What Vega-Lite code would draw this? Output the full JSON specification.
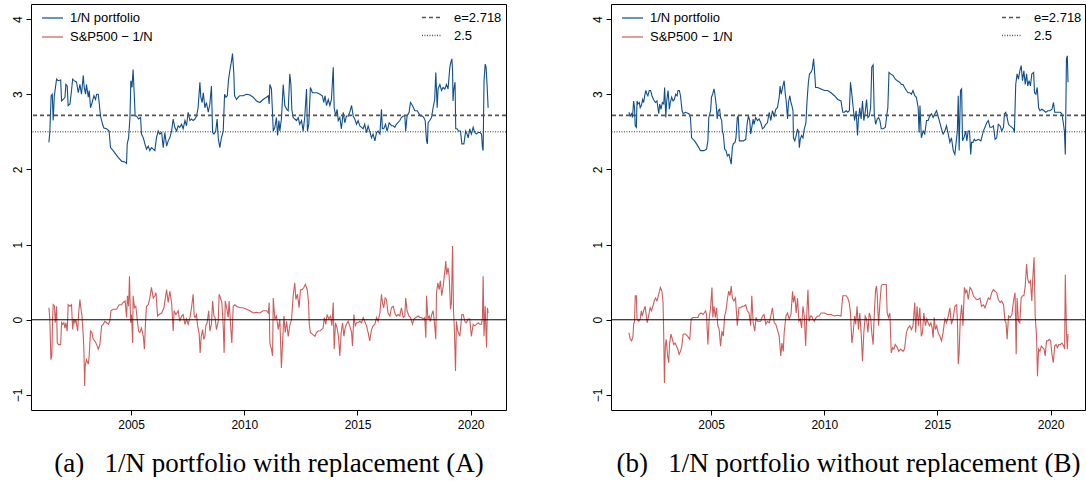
{
"$schema":"https://vega.github.io/schema/vega-lite/v6.json",
"padding":{"left":10,"top":3,"right":0,"bottom":0},
"spacing":82,
"config":{
"view":{"stroke":"black","strokeWidth":1},
"axis":{"labelFont":"Liberation Sans","labelFontSize":12,"labelColor":"black","tickColor":"black","tickSize":5,"tickWidth":1,"grid":false,"domain":false,"labelOverlap":false,"labelFlush":false,"titleFont":"Liberation Serif","titleFontSize":27,"titleFontWeight":"normal","titleColor":"black"},
"legend":{"labelFont":"Liberation Sans","labelFontSize":13,"labelColor":"black","labelLimit":0,"padding":0,"offset":0,"symbolType":"stroke"}
},
"datasets":{
"refs":[{"label":"e=2.718","y":2.718},{"label":"2.5","y":2.5}],
"zero":[{"y":0}],
"a1":[{"t":2001.37,"v":2.36},{"t":2001.41,"v":2.49},{"t":2001.47,"v":2.98},{"t":2001.52,"v":3.00},{"t":2001.56,"v":2.65},{"t":2001.61,"v":2.98},{"t":2001.71,"v":3.20},{"t":2001.78,"v":3.18},{"t":2001.89,"v":3.19},{"t":2001.93,"v":2.91},{"t":2002.00,"v":2.93},{"t":2002.08,"v":2.96},{"t":2002.12,"v":3.13},{"t":2002.18,"v":3.11},{"t":2002.22,"v":2.85},{"t":2002.30,"v":2.87},{"t":2002.37,"v":3.05},{"t":2002.42,"v":3.20},{"t":2002.49,"v":3.18},{"t":2002.59,"v":3.16},{"t":2002.67,"v":3.02},{"t":2002.74,"v":3.13},{"t":2002.81,"v":3.00},{"t":2002.89,"v":3.25},{"t":2002.93,"v":3.09},{"t":2002.99,"v":3.00},{"t":2003.03,"v":3.13},{"t":2003.11,"v":2.96},{"t":2003.15,"v":3.05},{"t":2003.21,"v":2.82},{"t":2003.28,"v":2.89},{"t":2003.36,"v":2.98},{"t":2003.43,"v":2.93},{"t":2003.48,"v":3.00},{"t":2003.55,"v":3.00},{"t":2003.59,"v":2.89},{"t":2003.65,"v":2.71},{"t":2003.74,"v":2.60},{"t":2003.80,"v":2.55},{"t":2003.92,"v":2.54},{"t":2004.03,"v":2.51},{"t":2004.09,"v":2.29},{"t":2004.21,"v":2.25},{"t":2004.33,"v":2.20},{"t":2004.43,"v":2.16},{"t":2004.58,"v":2.11},{"t":2004.73,"v":2.10},{"t":2004.80,"v":2.08},{"t":2004.83,"v":2.34},{"t":2004.89,"v":2.42},{"t":2004.95,"v":2.69},{"t":2004.99,"v":3.18},{"t":2005.04,"v":3.09},{"t":2005.09,"v":3.33},{"t":2005.14,"v":3.00},{"t":2005.18,"v":2.71},{"t":2005.24,"v":2.71},{"t":2005.33,"v":2.67},{"t":2005.42,"v":2.69},{"t":2005.46,"v":2.47},{"t":2005.54,"v":2.42},{"t":2005.61,"v":2.34},{"t":2005.68,"v":2.27},{"t":2005.76,"v":2.31},{"t":2005.83,"v":2.25},{"t":2005.90,"v":2.29},{"t":2005.98,"v":2.27},{"t":2006.05,"v":2.25},{"t":2006.12,"v":2.42},{"t":2006.20,"v":2.51},{"t":2006.27,"v":2.47},{"t":2006.35,"v":2.49},{"t":2006.42,"v":2.29},{"t":2006.49,"v":2.49},{"t":2006.57,"v":2.31},{"t":2006.64,"v":2.38},{"t":2006.71,"v":2.42},{"t":2006.79,"v":2.51},{"t":2006.86,"v":2.67},{"t":2006.93,"v":2.56},{"t":2007.01,"v":2.51},{"t":2007.08,"v":2.58},{"t":2007.15,"v":2.56},{"t":2007.23,"v":2.60},{"t":2007.30,"v":2.54},{"t":2007.38,"v":2.65},{"t":2007.45,"v":2.58},{"t":2007.52,"v":2.76},{"t":2007.60,"v":2.65},{"t":2007.67,"v":2.67},{"t":2007.74,"v":2.65},{"t":2007.82,"v":2.67},{"t":2007.89,"v":2.71},{"t":2007.96,"v":2.82},{"t":2008.04,"v":3.16},{"t":2008.08,"v":2.96},{"t":2008.14,"v":2.89},{"t":2008.19,"v":3.02},{"t":2008.26,"v":2.82},{"t":2008.33,"v":2.89},{"t":2008.41,"v":2.76},{"t":2008.48,"v":2.87},{"t":2008.55,"v":3.11},{"t":2008.60,"v":2.49},{"t":2008.66,"v":2.47},{"t":2008.74,"v":2.51},{"t":2008.80,"v":2.67},{"t":2008.85,"v":2.42},{"t":2008.92,"v":2.29},{"t":2008.99,"v":2.42},{"t":2009.07,"v":2.51},{"t":2009.13,"v":3.00},{"t":2009.19,"v":2.96},{"t":2009.25,"v":2.98},{"t":2009.30,"v":3.18},{"t":2009.36,"v":3.31},{"t":2009.44,"v":3.45},{"t":2009.48,"v":3.54},{"t":2009.54,"v":3.27},{"t":2009.57,"v":2.98},{"t":2009.66,"v":2.93},{"t":2009.73,"v":2.96},{"t":2009.80,"v":2.98},{"t":2009.95,"v":2.98},{"t":2010.10,"v":3.00},{"t":2010.25,"v":2.99},{"t":2010.39,"v":2.96},{"t":2010.54,"v":2.91},{"t":2010.69,"v":2.89},{"t":2010.83,"v":2.93},{"t":2010.98,"v":2.96},{"t":2011.06,"v":2.98},{"t":2011.10,"v":2.87},{"t":2011.13,"v":3.13},{"t":2011.20,"v":3.07},{"t":2011.23,"v":2.87},{"t":2011.28,"v":2.51},{"t":2011.35,"v":2.56},{"t":2011.42,"v":2.69},{"t":2011.47,"v":2.45},{"t":2011.53,"v":2.65},{"t":2011.57,"v":2.51},{"t":2011.64,"v":2.67},{"t":2011.72,"v":3.13},{"t":2011.79,"v":2.85},{"t":2011.87,"v":2.80},{"t":2011.94,"v":2.78},{"t":2012.01,"v":3.27},{"t":2012.06,"v":3.13},{"t":2012.10,"v":2.80},{"t":2012.16,"v":2.69},{"t":2012.23,"v":2.67},{"t":2012.31,"v":2.65},{"t":2012.38,"v":2.69},{"t":2012.45,"v":2.60},{"t":2012.53,"v":2.65},{"t":2012.60,"v":2.51},{"t":2012.67,"v":2.69},{"t":2012.75,"v":3.07},{"t":2012.79,"v":2.51},{"t":2012.85,"v":2.60},{"t":2012.92,"v":3.09},{"t":2013.01,"v":3.02},{"t":2013.12,"v":3.02},{"t":2013.22,"v":3.02},{"t":2013.34,"v":3.00},{"t":2013.45,"v":2.98},{"t":2013.51,"v":2.89},{"t":2013.57,"v":2.98},{"t":2013.63,"v":2.85},{"t":2013.71,"v":2.93},{"t":2013.78,"v":2.85},{"t":2013.85,"v":2.93},{"t":2013.93,"v":3.36},{"t":2013.97,"v":2.82},{"t":2014.04,"v":2.71},{"t":2014.10,"v":2.80},{"t":2014.15,"v":2.65},{"t":2014.22,"v":2.69},{"t":2014.29,"v":2.54},{"t":2014.37,"v":2.76},{"t":2014.44,"v":2.62},{"t":2014.51,"v":2.71},{"t":2014.59,"v":2.71},{"t":2014.66,"v":2.76},{"t":2014.74,"v":2.85},{"t":2014.81,"v":2.71},{"t":2014.88,"v":2.67},{"t":2014.96,"v":2.60},{"t":2015.03,"v":2.65},{"t":2015.10,"v":2.58},{"t":2015.18,"v":2.56},{"t":2015.25,"v":2.54},{"t":2015.32,"v":2.60},{"t":2015.40,"v":2.49},{"t":2015.47,"v":2.58},{"t":2015.54,"v":2.51},{"t":2015.62,"v":2.42},{"t":2015.69,"v":2.47},{"t":2015.77,"v":2.38},{"t":2015.84,"v":2.49},{"t":2015.91,"v":2.51},{"t":2015.99,"v":2.47},{"t":2016.06,"v":2.80},{"t":2016.10,"v":2.54},{"t":2016.16,"v":2.54},{"t":2016.24,"v":2.60},{"t":2016.31,"v":2.51},{"t":2016.40,"v":2.62},{"t":2016.46,"v":2.60},{"t":2016.50,"v":2.58},{"t":2016.58,"v":2.58},{"t":2016.65,"v":2.56},{"t":2016.72,"v":2.60},{"t":2016.87,"v":2.65},{"t":2016.94,"v":2.69},{"t":2017.02,"v":2.71},{"t":2017.09,"v":2.71},{"t":2017.13,"v":2.51},{"t":2017.19,"v":2.71},{"t":2017.28,"v":2.76},{"t":2017.34,"v":2.89},{"t":2017.43,"v":2.85},{"t":2017.53,"v":2.78},{"t":2017.64,"v":2.78},{"t":2017.72,"v":2.74},{"t":2017.78,"v":2.71},{"t":2017.87,"v":2.71},{"t":2017.93,"v":2.69},{"t":2017.99,"v":2.65},{"t":2018.05,"v":2.38},{"t":2018.09,"v":2.34},{"t":2018.12,"v":2.62},{"t":2018.19,"v":2.65},{"t":2018.27,"v":2.69},{"t":2018.34,"v":2.82},{"t":2018.41,"v":2.93},{"t":2018.46,"v":3.29},{"t":2018.52,"v":2.82},{"t":2018.56,"v":3.07},{"t":2018.64,"v":3.13},{"t":2018.71,"v":3.05},{"t":2018.78,"v":3.09},{"t":2018.86,"v":3.07},{"t":2018.93,"v":3.13},{"t":2019.00,"v":3.07},{"t":2019.08,"v":3.36},{"t":2019.12,"v":3.42},{"t":2019.17,"v":3.47},{"t":2019.20,"v":3.31},{"t":2019.22,"v":2.91},{"t":2019.25,"v":3.05},{"t":2019.31,"v":3.16},{"t":2019.34,"v":2.54},{"t":2019.40,"v":2.54},{"t":2019.46,"v":2.51},{"t":2019.55,"v":2.51},{"t":2019.61,"v":2.34},{"t":2019.70,"v":2.34},{"t":2019.78,"v":2.51},{"t":2019.84,"v":2.47},{"t":2019.89,"v":2.42},{"t":2019.96,"v":2.54},{"t":2020.03,"v":2.47},{"t":2020.11,"v":2.56},{"t":2020.18,"v":2.49},{"t":2020.25,"v":2.47},{"t":2020.33,"v":2.49},{"t":2020.40,"v":2.49},{"t":2020.48,"v":2.47},{"t":2020.52,"v":2.29},{"t":2020.55,"v":2.25},{"t":2020.59,"v":3.18},{"t":2020.64,"v":3.40},{"t":2020.68,"v":3.36},{"t":2020.73,"v":3.09},{"t":2020.77,"v":2.82}],
"a2":[{"t":2001.37,"v":0.16},{"t":2001.41,"v":0.01},{"t":2001.46,"v":-0.53},{"t":2001.50,"v":-0.48},{"t":2001.53,"v":-0.02},{"t":2001.56,"v":0.20},{"t":2001.62,"v":0.18},{"t":2001.65,"v":-0.04},{"t":2001.68,"v":0.05},{"t":2001.71,"v":0.18},{"t":2001.74,"v":-0.31},{"t":2001.80,"v":-0.33},{"t":2001.89,"v":-0.33},{"t":2001.93,"v":-0.04},{"t":2001.97,"v":-0.06},{"t":2002.03,"v":-0.04},{"t":2002.08,"v":-0.11},{"t":2002.12,"v":-0.04},{"t":2002.18,"v":-0.15},{"t":2002.22,"v":0.20},{"t":2002.30,"v":0.18},{"t":2002.37,"v":0.20},{"t":2002.42,"v":-0.13},{"t":2002.47,"v":0.01},{"t":2002.52,"v":-0.04},{"t":2002.56,"v":0.01},{"t":2002.64,"v":-0.15},{"t":2002.68,"v":0.07},{"t":2002.74,"v":0.27},{"t":2002.78,"v":0.16},{"t":2002.83,"v":0.05},{"t":2002.89,"v":-0.22},{"t":2002.92,"v":-0.44},{"t":2002.95,"v":-0.88},{"t":2002.97,"v":-0.62},{"t":2003.03,"v":-0.53},{"t":2003.11,"v":-0.59},{"t":2003.15,"v":-0.48},{"t":2003.21,"v":-0.15},{"t":2003.27,"v":-0.17},{"t":2003.33,"v":-0.26},{"t":2003.40,"v":-0.28},{"t":2003.48,"v":-0.33},{"t":2003.55,"v":-0.39},{"t":2003.62,"v":-0.33},{"t":2003.70,"v":-0.08},{"t":2003.77,"v":-0.06},{"t":2003.84,"v":-0.02},{"t":2003.92,"v":-0.04},{"t":2004.00,"v":-0.06},{"t":2004.06,"v":-0.02},{"t":2004.11,"v":0.12},{"t":2004.21,"v":0.14},{"t":2004.36,"v":0.14},{"t":2004.48,"v":0.20},{"t":2004.58,"v":0.20},{"t":2004.65,"v":0.23},{"t":2004.74,"v":0.25},{"t":2004.80,"v":0.03},{"t":2004.84,"v":0.32},{"t":2004.89,"v":0.18},{"t":2004.93,"v":0.58},{"t":2004.98,"v":-0.04},{"t":2005.02,"v":0.07},{"t":2005.07,"v":-0.31},{"t":2005.09,"v":0.32},{"t":2005.15,"v":0.16},{"t":2005.21,"v":0.18},{"t":2005.27,"v":0.01},{"t":2005.33,"v":-0.15},{"t":2005.39,"v":-0.17},{"t":2005.46,"v":-0.11},{"t":2005.54,"v":-0.22},{"t":2005.59,"v":-0.39},{"t":2005.64,"v":-0.02},{"t":2005.68,"v":0.18},{"t":2005.76,"v":0.20},{"t":2005.83,"v":0.29},{"t":2005.90,"v":0.43},{"t":2005.98,"v":0.29},{"t":2006.05,"v":0.32},{"t":2006.10,"v":0.36},{"t":2006.17,"v":0.05},{"t":2006.24,"v":0.07},{"t":2006.35,"v":0.09},{"t":2006.45,"v":0.16},{"t":2006.57,"v":0.40},{"t":2006.64,"v":0.23},{"t":2006.71,"v":0.38},{"t":2006.79,"v":0.23},{"t":2006.86,"v":-0.15},{"t":2006.90,"v":0.12},{"t":2006.98,"v":0.07},{"t":2007.08,"v":0.12},{"t":2007.15,"v":-0.02},{"t":2007.23,"v":0.05},{"t":2007.30,"v":0.07},{"t":2007.38,"v":-0.06},{"t":2007.45,"v":0.01},{"t":2007.52,"v":-0.06},{"t":2007.60,"v":0.03},{"t":2007.67,"v":0.16},{"t":2007.74,"v":0.34},{"t":2007.79,"v":0.05},{"t":2007.83,"v":0.03},{"t":2007.89,"v":0.07},{"t":2007.94,"v":-0.08},{"t":2008.01,"v":-0.19},{"t":2008.05,"v":-0.44},{"t":2008.10,"v":-0.22},{"t":2008.16,"v":-0.13},{"t":2008.21,"v":-0.26},{"t":2008.26,"v":-0.22},{"t":2008.30,"v":-0.08},{"t":2008.36,"v":-0.04},{"t":2008.43,"v":0.12},{"t":2008.48,"v":-0.15},{"t":2008.55,"v":-0.06},{"t":2008.60,"v":0.25},{"t":2008.66,"v":0.05},{"t":2008.71,"v":0.03},{"t":2008.77,"v":-0.13},{"t":2008.85,"v":-0.02},{"t":2008.89,"v":0.34},{"t":2008.95,"v":0.29},{"t":2009.01,"v":0.23},{"t":2009.07,"v":-0.08},{"t":2009.11,"v":-0.44},{"t":2009.16,"v":0.25},{"t":2009.22,"v":0.16},{"t":2009.29,"v":0.03},{"t":2009.33,"v":0.25},{"t":2009.39,"v":-0.04},{"t":2009.45,"v":-0.31},{"t":2009.51,"v":0.18},{"t":2009.58,"v":0.20},{"t":2009.66,"v":0.18},{"t":2009.80,"v":0.16},{"t":2009.95,"v":0.16},{"t":2010.10,"v":0.14},{"t":2010.25,"v":0.12},{"t":2010.39,"v":0.09},{"t":2010.54,"v":0.10},{"t":2010.69,"v":0.09},{"t":2010.83,"v":0.12},{"t":2010.98,"v":0.12},{"t":2011.06,"v":0.09},{"t":2011.10,"v":0.23},{"t":2011.13,"v":-0.31},{"t":2011.20,"v":-0.39},{"t":2011.25,"v":-0.48},{"t":2011.28,"v":0.29},{"t":2011.35,"v":0.01},{"t":2011.42,"v":0.05},{"t":2011.50,"v":-0.13},{"t":2011.57,"v":0.01},{"t":2011.64,"v":-0.64},{"t":2011.69,"v":-0.31},{"t":2011.75,"v":0.05},{"t":2011.81,"v":-0.17},{"t":2011.87,"v":-0.02},{"t":2011.94,"v":-0.22},{"t":2012.01,"v":-0.08},{"t":2012.09,"v":0.01},{"t":2012.16,"v":0.32},{"t":2012.23,"v":0.49},{"t":2012.28,"v":0.27},{"t":2012.35,"v":0.34},{"t":2012.42,"v":0.16},{"t":2012.48,"v":0.40},{"t":2012.56,"v":0.40},{"t":2012.63,"v":0.43},{"t":2012.70,"v":0.47},{"t":2012.78,"v":0.40},{"t":2012.84,"v":0.23},{"t":2012.87,"v":-0.06},{"t":2012.92,"v":-0.17},{"t":2013.01,"v":-0.19},{"t":2013.12,"v":-0.22},{"t":2013.19,"v":-0.17},{"t":2013.26,"v":-0.15},{"t":2013.34,"v":-0.15},{"t":2013.41,"v":-0.13},{"t":2013.48,"v":-0.11},{"t":2013.54,"v":0.03},{"t":2013.60,"v":-0.06},{"t":2013.66,"v":0.07},{"t":2013.73,"v":0.01},{"t":2013.81,"v":0.05},{"t":2013.87,"v":-0.08},{"t":2013.93,"v":0.23},{"t":2013.97,"v":-0.39},{"t":2014.03,"v":-0.04},{"t":2014.10,"v":-0.11},{"t":2014.16,"v":-0.22},{"t":2014.22,"v":-0.48},{"t":2014.28,"v":-0.17},{"t":2014.34,"v":-0.04},{"t":2014.40,"v":-0.22},{"t":2014.44,"v":-0.13},{"t":2014.51,"v":-0.06},{"t":2014.59,"v":-0.02},{"t":2014.66,"v":-0.08},{"t":2014.74,"v":-0.17},{"t":2014.78,"v":-0.35},{"t":2014.84,"v":0.07},{"t":2014.90,"v":-0.08},{"t":2014.96,"v":-0.04},{"t":2015.03,"v":-0.04},{"t":2015.10,"v":-0.02},{"t":2015.18,"v":-0.04},{"t":2015.25,"v":0.03},{"t":2015.32,"v":-0.02},{"t":2015.40,"v":-0.08},{"t":2015.47,"v":-0.17},{"t":2015.54,"v":-0.28},{"t":2015.62,"v":-0.13},{"t":2015.69,"v":-0.08},{"t":2015.77,"v":-0.06},{"t":2015.84,"v":0.03},{"t":2015.91,"v":-0.02},{"t":2015.99,"v":0.09},{"t":2016.06,"v":0.34},{"t":2016.10,"v":0.23},{"t":2016.16,"v":0.16},{"t":2016.22,"v":0.29},{"t":2016.28,"v":0.27},{"t":2016.35,"v":0.09},{"t":2016.43,"v":0.05},{"t":2016.50,"v":0.16},{"t":2016.58,"v":0.18},{"t":2016.65,"v":0.09},{"t":2016.72,"v":0.05},{"t":2016.80,"v":0.07},{"t":2016.87,"v":0.05},{"t":2016.94,"v":0.16},{"t":2017.02,"v":0.03},{"t":2017.09,"v":0.05},{"t":2017.13,"v":0.29},{"t":2017.19,"v":0.12},{"t":2017.27,"v":0.05},{"t":2017.34,"v":0.03},{"t":2017.43,"v":-0.06},{"t":2017.49,"v":0.01},{"t":2017.58,"v":0.03},{"t":2017.68,"v":0.05},{"t":2017.75,"v":0.03},{"t":2017.83,"v":0.03},{"t":2017.90,"v":0.01},{"t":2017.97,"v":0.03},{"t":2018.02,"v":-0.24},{"t":2018.05,"v":0.32},{"t":2018.11,"v":0.01},{"t":2018.17,"v":0.05},{"t":2018.22,"v":-0.02},{"t":2018.28,"v":0.07},{"t":2018.34,"v":0.12},{"t":2018.40,"v":-0.04},{"t":2018.46,"v":-0.26},{"t":2018.49,"v":0.36},{"t":2018.55,"v":0.49},{"t":2018.61,"v":0.40},{"t":2018.66,"v":0.52},{"t":2018.72,"v":0.32},{"t":2018.78,"v":0.43},{"t":2018.86,"v":0.65},{"t":2018.90,"v":0.78},{"t":2018.94,"v":0.60},{"t":2019.00,"v":0.69},{"t":2019.05,"v":0.58},{"t":2019.11,"v":0.14},{"t":2019.15,"v":0.23},{"t":2019.20,"v":0.98},{"t":2019.24,"v":0.14},{"t":2019.28,"v":-0.13},{"t":2019.33,"v":-0.68},{"t":2019.37,"v":-0.02},{"t":2019.43,"v":-0.15},{"t":2019.52,"v":-0.22},{"t":2019.61,"v":0.07},{"t":2019.67,"v":0.07},{"t":2019.74,"v":-0.02},{"t":2019.81,"v":-0.04},{"t":2019.89,"v":0.01},{"t":2019.96,"v":0.01},{"t":2020.03,"v":-0.22},{"t":2020.11,"v":-0.06},{"t":2020.18,"v":-0.08},{"t":2020.25,"v":-0.06},{"t":2020.33,"v":-0.04},{"t":2020.40,"v":-0.06},{"t":2020.48,"v":-0.06},{"t":2020.52,"v":0.03},{"t":2020.55,"v":0.58},{"t":2020.59,"v":-0.22},{"t":2020.64,"v":0.18},{"t":2020.70,"v":-0.37},{"t":2020.74,"v":0.16},{"t":2020.77,"v":0.09}],
"b1":[{"t":2001.37,"v":2.76},{"t":2001.43,"v":2.71},{"t":2001.49,"v":2.74},{"t":2001.53,"v":2.69},{"t":2001.58,"v":2.91},{"t":2001.62,"v":2.82},{"t":2001.65,"v":2.58},{"t":2001.70,"v":2.56},{"t":2001.73,"v":2.91},{"t":2001.77,"v":2.87},{"t":2001.83,"v":2.89},{"t":2001.87,"v":2.82},{"t":2001.92,"v":2.85},{"t":2001.98,"v":2.93},{"t":2002.02,"v":2.89},{"t":2002.07,"v":2.98},{"t":2002.12,"v":3.05},{"t":2002.17,"v":3.00},{"t":2002.21,"v":2.98},{"t":2002.27,"v":3.05},{"t":2002.33,"v":3.05},{"t":2002.39,"v":2.98},{"t":2002.46,"v":2.93},{"t":2002.54,"v":2.89},{"t":2002.61,"v":2.91},{"t":2002.69,"v":2.74},{"t":2002.73,"v":2.87},{"t":2002.79,"v":2.80},{"t":2002.85,"v":2.89},{"t":2002.91,"v":2.87},{"t":2002.95,"v":3.09},{"t":2003.00,"v":2.69},{"t":2003.04,"v":2.91},{"t":2003.10,"v":3.05},{"t":2003.16,"v":2.80},{"t":2003.20,"v":2.89},{"t":2003.26,"v":2.96},{"t":2003.32,"v":2.91},{"t":2003.38,"v":2.93},{"t":2003.44,"v":3.00},{"t":2003.50,"v":2.98},{"t":2003.54,"v":3.05},{"t":2003.60,"v":3.05},{"t":2003.65,"v":2.98},{"t":2003.72,"v":2.78},{"t":2003.77,"v":2.74},{"t":2003.87,"v":2.76},{"t":2004.02,"v":2.74},{"t":2004.09,"v":2.69},{"t":2004.14,"v":2.42},{"t":2004.21,"v":2.40},{"t":2004.27,"v":2.38},{"t":2004.36,"v":2.34},{"t":2004.46,"v":2.29},{"t":2004.53,"v":2.25},{"t":2004.68,"v":2.25},{"t":2004.80,"v":2.27},{"t":2004.86,"v":2.38},{"t":2004.90,"v":2.69},{"t":2004.98,"v":2.78},{"t":2005.02,"v":2.96},{"t":2005.07,"v":3.00},{"t":2005.13,"v":3.07},{"t":2005.17,"v":3.00},{"t":2005.23,"v":2.85},{"t":2005.27,"v":2.67},{"t":2005.32,"v":2.78},{"t":2005.38,"v":2.80},{"t":2005.42,"v":2.69},{"t":2005.47,"v":2.65},{"t":2005.50,"v":2.51},{"t":2005.54,"v":2.47},{"t":2005.60,"v":2.27},{"t":2005.66,"v":2.25},{"t":2005.72,"v":2.18},{"t":2005.79,"v":2.20},{"t":2005.84,"v":2.14},{"t":2005.89,"v":2.07},{"t":2005.94,"v":2.29},{"t":2005.98,"v":2.34},{"t":2006.06,"v":2.36},{"t":2006.10,"v":2.42},{"t":2006.16,"v":2.69},{"t":2006.20,"v":2.71},{"t":2006.25,"v":2.38},{"t":2006.31,"v":2.38},{"t":2006.43,"v":2.38},{"t":2006.53,"v":2.40},{"t":2006.60,"v":2.62},{"t":2006.65,"v":2.71},{"t":2006.71,"v":2.65},{"t":2006.75,"v":2.47},{"t":2006.80,"v":2.56},{"t":2006.86,"v":2.67},{"t":2006.90,"v":2.60},{"t":2006.97,"v":2.69},{"t":2007.05,"v":2.65},{"t":2007.12,"v":2.67},{"t":2007.20,"v":2.62},{"t":2007.27,"v":2.54},{"t":2007.34,"v":2.56},{"t":2007.42,"v":2.60},{"t":2007.49,"v":2.62},{"t":2007.57,"v":2.76},{"t":2007.64,"v":2.65},{"t":2007.71,"v":2.78},{"t":2007.79,"v":2.71},{"t":2007.86,"v":2.80},{"t":2007.93,"v":2.82},{"t":2008.01,"v":2.96},{"t":2008.05,"v":3.11},{"t":2008.10,"v":3.00},{"t":2008.16,"v":3.09},{"t":2008.23,"v":3.18},{"t":2008.28,"v":3.00},{"t":2008.32,"v":2.91},{"t":2008.38,"v":2.67},{"t":2008.42,"v":2.89},{"t":2008.48,"v":2.98},{"t":2008.53,"v":2.89},{"t":2008.57,"v":2.85},{"t":2008.62,"v":2.78},{"t":2008.64,"v":2.42},{"t":2008.70,"v":2.38},{"t":2008.76,"v":2.45},{"t":2008.82,"v":2.54},{"t":2008.87,"v":2.49},{"t":2008.90,"v":2.29},{"t":2008.94,"v":2.40},{"t":2009.00,"v":2.45},{"t":2009.06,"v":2.42},{"t":2009.12,"v":2.54},{"t":2009.19,"v":2.62},{"t":2009.24,"v":2.91},{"t":2009.30,"v":3.16},{"t":2009.35,"v":3.27},{"t":2009.41,"v":3.29},{"t":2009.47,"v":3.33},{"t":2009.53,"v":3.47},{"t":2009.58,"v":3.27},{"t":2009.62,"v":3.09},{"t":2009.71,"v":3.09},{"t":2009.86,"v":3.07},{"t":2010.01,"v":3.05},{"t":2010.15,"v":3.05},{"t":2010.30,"v":3.02},{"t":2010.45,"v":2.98},{"t":2010.60,"v":2.93},{"t":2010.74,"v":2.91},{"t":2010.82,"v":2.76},{"t":2010.89,"v":2.76},{"t":2010.97,"v":2.78},{"t":2011.04,"v":2.76},{"t":2011.11,"v":2.78},{"t":2011.16,"v":3.16},{"t":2011.22,"v":3.00},{"t":2011.28,"v":2.82},{"t":2011.34,"v":2.65},{"t":2011.41,"v":2.78},{"t":2011.47,"v":2.45},{"t":2011.51,"v":2.67},{"t":2011.57,"v":2.82},{"t":2011.63,"v":2.67},{"t":2011.69,"v":2.91},{"t":2011.75,"v":2.65},{"t":2011.81,"v":2.76},{"t":2011.87,"v":2.93},{"t":2011.93,"v":2.69},{"t":2011.99,"v":2.71},{"t":2012.05,"v":2.82},{"t":2012.10,"v":3.36},{"t":2012.16,"v":3.39},{"t":2012.21,"v":2.74},{"t":2012.27,"v":2.60},{"t":2012.34,"v":2.67},{"t":2012.40,"v":2.69},{"t":2012.46,"v":2.65},{"t":2012.52,"v":2.54},{"t":2012.61,"v":2.54},{"t":2012.70,"v":2.56},{"t":2012.76,"v":2.71},{"t":2012.81,"v":2.82},{"t":2012.86,"v":3.29},{"t":2012.93,"v":3.27},{"t":2013.04,"v":3.25},{"t":2013.14,"v":3.20},{"t":2013.23,"v":3.18},{"t":2013.33,"v":3.16},{"t":2013.41,"v":3.13},{"t":2013.48,"v":3.13},{"t":2013.55,"v":3.09},{"t":2013.63,"v":3.05},{"t":2013.70,"v":3.02},{"t":2013.78,"v":3.02},{"t":2013.85,"v":3.00},{"t":2013.92,"v":3.05},{"t":2014.00,"v":2.98},{"t":2014.07,"v":2.96},{"t":2014.15,"v":2.82},{"t":2014.19,"v":2.49},{"t":2014.23,"v":2.85},{"t":2014.29,"v":2.42},{"t":2014.37,"v":2.51},{"t":2014.44,"v":2.47},{"t":2014.52,"v":2.65},{"t":2014.59,"v":2.65},{"t":2014.66,"v":2.71},{"t":2014.74,"v":2.74},{"t":2014.81,"v":2.69},{"t":2014.89,"v":2.74},{"t":2014.96,"v":2.78},{"t":2015.03,"v":2.71},{"t":2015.11,"v":2.62},{"t":2015.18,"v":2.54},{"t":2015.25,"v":2.47},{"t":2015.33,"v":2.51},{"t":2015.40,"v":2.58},{"t":2015.48,"v":2.47},{"t":2015.55,"v":2.36},{"t":2015.62,"v":2.42},{"t":2015.70,"v":2.25},{"t":2015.77,"v":2.20},{"t":2015.82,"v":2.34},{"t":2015.88,"v":2.51},{"t":2015.92,"v":2.98},{"t":2015.96,"v":2.25},{"t":2016.02,"v":3.05},{"t":2016.07,"v":3.07},{"t":2016.11,"v":2.38},{"t":2016.17,"v":2.42},{"t":2016.25,"v":2.51},{"t":2016.30,"v":2.38},{"t":2016.36,"v":2.51},{"t":2016.42,"v":2.51},{"t":2016.47,"v":2.20},{"t":2016.51,"v":2.36},{"t":2016.57,"v":2.36},{"t":2016.63,"v":2.40},{"t":2016.69,"v":2.38},{"t":2016.81,"v":2.40},{"t":2016.92,"v":2.38},{"t":2017.03,"v":2.51},{"t":2017.10,"v":2.56},{"t":2017.18,"v":2.62},{"t":2017.25,"v":2.65},{"t":2017.32,"v":2.56},{"t":2017.40,"v":2.56},{"t":2017.47,"v":2.58},{"t":2017.55,"v":2.40},{"t":2017.62,"v":2.42},{"t":2017.69,"v":2.60},{"t":2017.77,"v":2.58},{"t":2017.84,"v":2.51},{"t":2017.92,"v":2.56},{"t":2017.96,"v":2.74},{"t":2018.02,"v":2.76},{"t":2018.08,"v":2.69},{"t":2018.14,"v":2.60},{"t":2018.21,"v":2.58},{"t":2018.29,"v":2.56},{"t":2018.36,"v":2.54},{"t":2018.40,"v":2.49},{"t":2018.46,"v":3.13},{"t":2018.52,"v":3.27},{"t":2018.58,"v":3.20},{"t":2018.64,"v":3.31},{"t":2018.70,"v":3.38},{"t":2018.76,"v":3.18},{"t":2018.82,"v":3.31},{"t":2018.88,"v":3.13},{"t":2018.94,"v":3.27},{"t":2018.99,"v":3.11},{"t":2019.05,"v":3.18},{"t":2019.11,"v":3.11},{"t":2019.17,"v":3.27},{"t":2019.25,"v":3.29},{"t":2019.29,"v":3.02},{"t":2019.35,"v":3.00},{"t":2019.41,"v":3.09},{"t":2019.47,"v":2.82},{"t":2019.53,"v":2.78},{"t":2019.62,"v":2.80},{"t":2019.71,"v":2.78},{"t":2019.79,"v":2.76},{"t":2019.88,"v":2.78},{"t":2019.97,"v":2.78},{"t":2020.06,"v":2.80},{"t":2020.13,"v":2.89},{"t":2020.18,"v":2.76},{"t":2020.24,"v":2.76},{"t":2020.33,"v":2.76},{"t":2020.43,"v":2.76},{"t":2020.50,"v":2.74},{"t":2020.56,"v":2.62},{"t":2020.61,"v":2.51},{"t":2020.65,"v":2.20},{"t":2020.70,"v":3.47},{"t":2020.74,"v":3.51},{"t":2020.77,"v":3.16}],
"b2":[{"t":2001.37,"v":-0.17},{"t":2001.43,"v":-0.26},{"t":2001.49,"v":-0.28},{"t":2001.55,"v":-0.22},{"t":2001.58,"v":-0.06},{"t":2001.62,"v":-0.02},{"t":2001.65,"v":0.32},{"t":2001.70,"v":0.32},{"t":2001.73,"v":0.01},{"t":2001.80,"v":-0.02},{"t":2001.87,"v":0.01},{"t":2001.92,"v":0.12},{"t":2001.96,"v":0.05},{"t":2002.02,"v":0.12},{"t":2002.09,"v":0.18},{"t":2002.14,"v":0.05},{"t":2002.18,"v":-0.04},{"t":2002.24,"v":0.05},{"t":2002.31,"v":0.16},{"t":2002.37,"v":0.12},{"t":2002.43,"v":0.18},{"t":2002.49,"v":0.25},{"t":2002.55,"v":0.29},{"t":2002.61,"v":0.25},{"t":2002.69,"v":0.34},{"t":2002.76,"v":0.43},{"t":2002.83,"v":0.38},{"t":2002.88,"v":0.23},{"t":2002.91,"v":-0.22},{"t":2002.94,"v":-0.84},{"t":2002.98,"v":-0.35},{"t":2003.02,"v":-0.26},{"t":2003.08,"v":-0.48},{"t":2003.13,"v":-0.57},{"t":2003.17,"v":-0.31},{"t":2003.23,"v":-0.19},{"t":2003.29,"v":-0.26},{"t":2003.35,"v":-0.33},{"t":2003.41,"v":-0.31},{"t":2003.47,"v":-0.35},{"t":2003.53,"v":-0.39},{"t":2003.59,"v":-0.46},{"t":2003.65,"v":-0.42},{"t":2003.71,"v":-0.35},{"t":2003.77,"v":-0.19},{"t":2003.87,"v":-0.19},{"t":2003.97,"v":-0.22},{"t":2004.06,"v":-0.26},{"t":2004.12,"v":0.01},{"t":2004.19,"v":0.03},{"t":2004.31,"v":0.03},{"t":2004.42,"v":0.03},{"t":2004.47,"v":0.07},{"t":2004.56,"v":0.09},{"t":2004.65,"v":0.07},{"t":2004.76,"v":0.12},{"t":2004.80,"v":0.07},{"t":2004.86,"v":-0.33},{"t":2004.92,"v":0.03},{"t":2004.98,"v":0.16},{"t":2005.04,"v":0.43},{"t":2005.08,"v":0.03},{"t":2005.13,"v":0.18},{"t":2005.19,"v":0.03},{"t":2005.24,"v":0.16},{"t":2005.30,"v":-0.08},{"t":2005.36,"v":-0.13},{"t":2005.42,"v":-0.35},{"t":2005.48,"v":-0.15},{"t":2005.54,"v":-0.22},{"t":2005.60,"v":0.05},{"t":2005.66,"v":0.12},{"t":2005.72,"v":0.27},{"t":2005.78,"v":0.38},{"t":2005.84,"v":0.32},{"t":2005.89,"v":0.45},{"t":2005.94,"v":0.29},{"t":2006.01,"v":0.25},{"t":2006.08,"v":0.29},{"t":2006.16,"v":-0.08},{"t":2006.23,"v":0.16},{"t":2006.31,"v":0.16},{"t":2006.38,"v":0.18},{"t":2006.46,"v":0.18},{"t":2006.53,"v":0.20},{"t":2006.60,"v":0.12},{"t":2006.68,"v":0.09},{"t":2006.75,"v":-0.08},{"t":2006.80,"v":0.32},{"t":2006.86,"v":-0.04},{"t":2006.93,"v":-0.15},{"t":2006.99,"v":0.03},{"t":2007.05,"v":-0.02},{"t":2007.12,"v":-0.02},{"t":2007.20,"v":-0.02},{"t":2007.27,"v":0.05},{"t":2007.34,"v":0.07},{"t":2007.42,"v":-0.06},{"t":2007.49,"v":-0.02},{"t":2007.57,"v":-0.04},{"t":2007.64,"v":0.05},{"t":2007.71,"v":0.16},{"t":2007.79,"v":-0.04},{"t":2007.86,"v":-0.06},{"t":2007.93,"v":-0.13},{"t":2008.01,"v":-0.22},{"t":2008.08,"v":-0.48},{"t":2008.13,"v":-0.31},{"t":2008.19,"v":-0.42},{"t":2008.23,"v":-0.17},{"t":2008.31,"v":0.05},{"t":2008.38,"v":0.09},{"t":2008.45,"v":0.01},{"t":2008.53,"v":0.07},{"t":2008.60,"v":0.38},{"t":2008.64,"v":0.23},{"t":2008.70,"v":0.32},{"t":2008.76,"v":0.09},{"t":2008.82,"v":0.29},{"t":2008.88,"v":-0.02},{"t":2008.94,"v":0.01},{"t":2009.00,"v":-0.11},{"t":2009.06,"v":0.18},{"t":2009.12,"v":0.05},{"t":2009.18,"v":-0.35},{"t":2009.22,"v":0.01},{"t":2009.28,"v":0.40},{"t":2009.33,"v":-0.02},{"t":2009.39,"v":0.05},{"t":2009.44,"v":0.05},{"t":2009.50,"v":0.01},{"t":2009.56,"v":-0.02},{"t":2009.64,"v":0.03},{"t":2009.71,"v":0.05},{"t":2009.78,"v":0.05},{"t":2009.86,"v":0.09},{"t":2010.01,"v":0.09},{"t":2010.15,"v":0.07},{"t":2010.30,"v":0.07},{"t":2010.45,"v":0.05},{"t":2010.60,"v":0.06},{"t":2010.74,"v":0.05},{"t":2010.82,"v":0.32},{"t":2010.89,"v":0.32},{"t":2010.97,"v":0.32},{"t":2011.04,"v":0.29},{"t":2011.10,"v":0.23},{"t":2011.16,"v":0.09},{"t":2011.22,"v":-0.31},{"t":2011.28,"v":-0.17},{"t":2011.34,"v":0.05},{"t":2011.39,"v":-0.06},{"t":2011.45,"v":0.18},{"t":2011.51,"v":-0.13},{"t":2011.57,"v":0.09},{"t":2011.63,"v":-0.17},{"t":2011.69,"v":-0.55},{"t":2011.75,"v":-0.17},{"t":2011.81,"v":0.05},{"t":2011.87,"v":0.01},{"t":2011.93,"v":-0.17},{"t":2011.99,"v":0.09},{"t":2012.05,"v":0.03},{"t":2012.10,"v":-0.17},{"t":2012.16,"v":-0.33},{"t":2012.22,"v":0.14},{"t":2012.27,"v":0.40},{"t":2012.31,"v":0.45},{"t":2012.34,"v":0.34},{"t":2012.40,"v":-0.08},{"t":2012.46,"v":0.23},{"t":2012.52,"v":0.45},{"t":2012.58,"v":0.47},{"t":2012.67,"v":0.47},{"t":2012.74,"v":0.47},{"t":2012.78,"v":0.09},{"t":2012.84,"v":0.03},{"t":2012.90,"v":0.09},{"t":2012.96,"v":-0.44},{"t":2013.02,"v":-0.37},{"t":2013.08,"v":-0.39},{"t":2013.14,"v":-0.33},{"t":2013.23,"v":-0.37},{"t":2013.29,"v":-0.42},{"t":2013.37,"v":-0.39},{"t":2013.48,"v":-0.42},{"t":2013.55,"v":-0.39},{"t":2013.63,"v":-0.17},{"t":2013.70,"v":-0.11},{"t":2013.78,"v":-0.08},{"t":2013.85,"v":-0.13},{"t":2013.92,"v":-0.08},{"t":2014.00,"v":0.23},{"t":2014.04,"v":-0.17},{"t":2014.10,"v":0.18},{"t":2014.16,"v":-0.08},{"t":2014.22,"v":0.16},{"t":2014.29,"v":-0.22},{"t":2014.34,"v":-0.17},{"t":2014.40,"v":0.09},{"t":2014.47,"v":-0.08},{"t":2014.53,"v":0.01},{"t":2014.59,"v":-0.04},{"t":2014.65,"v":-0.08},{"t":2014.71,"v":-0.04},{"t":2014.77,"v":-0.11},{"t":2014.81,"v":-0.24},{"t":2014.86,"v":0.03},{"t":2014.91,"v":-0.13},{"t":2014.97,"v":-0.08},{"t":2015.03,"v":-0.17},{"t":2015.11,"v":-0.22},{"t":2015.18,"v":-0.28},{"t":2015.25,"v":-0.17},{"t":2015.33,"v":0.01},{"t":2015.40,"v":-0.04},{"t":2015.48,"v":0.05},{"t":2015.55,"v":0.16},{"t":2015.62,"v":-0.06},{"t":2015.70,"v":0.03},{"t":2015.77,"v":0.18},{"t":2015.85,"v":0.20},{"t":2015.89,"v":-0.08},{"t":2015.92,"v":-0.59},{"t":2015.96,"v":-0.44},{"t":2016.01,"v":0.01},{"t":2016.07,"v":0.20},{"t":2016.13,"v":-0.08},{"t":2016.19,"v":0.43},{"t":2016.25,"v":0.36},{"t":2016.30,"v":0.40},{"t":2016.36,"v":0.27},{"t":2016.44,"v":0.43},{"t":2016.51,"v":0.40},{"t":2016.59,"v":0.32},{"t":2016.66,"v":0.29},{"t":2016.73,"v":0.27},{"t":2016.81,"v":0.27},{"t":2016.88,"v":0.29},{"t":2016.95,"v":0.18},{"t":2017.03,"v":0.20},{"t":2017.10,"v":0.16},{"t":2017.18,"v":0.23},{"t":2017.25,"v":0.29},{"t":2017.32,"v":0.27},{"t":2017.40,"v":0.36},{"t":2017.47,"v":0.40},{"t":2017.55,"v":0.38},{"t":2017.62,"v":0.36},{"t":2017.69,"v":0.27},{"t":2017.77,"v":0.23},{"t":2017.84,"v":0.25},{"t":2017.92,"v":0.20},{"t":2017.99,"v":-0.02},{"t":2018.03,"v":-0.04},{"t":2018.08,"v":-0.26},{"t":2018.14,"v":0.05},{"t":2018.21,"v":0.03},{"t":2018.29,"v":0.07},{"t":2018.36,"v":0.25},{"t":2018.43,"v":0.36},{"t":2018.48,"v":-0.46},{"t":2018.52,"v":0.29},{"t":2018.58,"v":-0.02},{"t":2018.64,"v":-0.04},{"t":2018.70,"v":0.29},{"t":2018.76,"v":0.32},{"t":2018.82,"v":0.32},{"t":2018.88,"v":0.45},{"t":2018.94,"v":0.74},{"t":2018.99,"v":0.54},{"t":2019.05,"v":0.49},{"t":2019.11,"v":0.52},{"t":2019.17,"v":0.25},{"t":2019.21,"v":0.54},{"t":2019.27,"v":0.83},{"t":2019.32,"v":0.05},{"t":2019.38,"v":-0.22},{"t":2019.42,"v":-0.75},{"t":2019.47,"v":-0.39},{"t":2019.53,"v":-0.42},{"t":2019.59,"v":-0.35},{"t":2019.65,"v":-0.37},{"t":2019.71,"v":-0.39},{"t":2019.76,"v":-0.48},{"t":2019.82,"v":-0.28},{"t":2019.88,"v":-0.28},{"t":2019.94,"v":-0.26},{"t":2020.00,"v":-0.28},{"t":2020.06,"v":-0.46},{"t":2020.12,"v":-0.57},{"t":2020.18,"v":-0.35},{"t":2020.24,"v":-0.33},{"t":2020.30,"v":-0.37},{"t":2020.36,"v":-0.33},{"t":2020.43,"v":-0.33},{"t":2020.50,"v":-0.31},{"t":2020.58,"v":-0.35},{"t":2020.62,"v":-0.39},{"t":2020.65,"v":0.60},{"t":2020.70,"v":-0.17},{"t":2020.74,"v":-0.39},{"t":2020.77,"v":-0.19}]
},
"hconcat":[
{"width":475,"height":406,
"layer":[
{"data":{"name":"a1"},"mark":{"type":"line","strokeWidth":1.1},
"encoding":{
"x":{"field":"t","type":"quantitative","scale":{"domain":[2000.58,2021.56],"nice":false,"zero":false},"axis":{"values":[2005,2010,2015,2020],"format":"d","labelPadding":4,"title":"(a)\u00a0\u00a0\u00a01/N portfolio with replacement (A)","titleY":61,"titleBaseline":"alphabetic"}},
"y":{"field":"v","type":"quantitative","scale":{"domain":[-1.2,4.2],"nice":false,"zero":false},"axis":{"values":[-1,0,1,2,3,4],"format":"d","labelAngle":-90,"labelAlign":"center","labelBaseline":"bottom","labelPadding":2,"title":null}},
"color":{"datum":"1/N portfolio","type":"nominal","scale":{"domain":["1/N portfolio","S&P500 − 1/N"],"range":["#104E8B","#CD5C5C"]},"legend":{"title":null,"orient":"none","legendX":10,"legendY":2.5,"symbolSize":441,"symbolStrokeWidth":1.2,"labelOffset":6,"rowPadding":-3}}}},
{"data":{"name":"a2"},"mark":{"type":"line","strokeWidth":1.1},
"encoding":{"x":{"field":"t","type":"quantitative"},"y":{"field":"v","type":"quantitative"},"color":{"datum":"S&P500 − 1/N","type":"nominal"}}},
{"data":{"name":"refs"},"transform":[{"filter":"datum.label == 'e=2.718'"}],"mark":{"type":"rule","color":"#555555","strokeWidth":1.6},
"encoding":{"y":{"field":"y","type":"quantitative"},"strokeDash":{"field":"label","type":"nominal","scale":{"domain":["e=2.718","2.5"],"range":[[4,3],[1,1.5]]},"legend":{"title":null,"orient":"none","legendX":390,"legendY":2.5,"symbolSize":400,"labelOffset":11,"rowPadding":-3,"encode":{"symbols":{"update":{"stroke":{"value":"black"},"strokeWidth":{"value":1},"strokeDash":{"signal":"datum.value == 'e=2.718' ? [2.2,1.8] : [1,1]"}}}}}}}},
{"data":{"name":"refs"},"transform":[{"filter":"datum.label == '2.5'"}],"mark":{"type":"rule","color":"#333333","strokeWidth":1},
"encoding":{"y":{"field":"y","type":"quantitative"},"strokeDash":{"field":"label","type":"nominal"}}},
{"data":{"name":"zero"},"mark":{"type":"rule","color":"black","strokeWidth":1},"encoding":{"y":{"field":"y","type":"quantitative"}}}
]},
{"width":474,"height":406,
"layer":[
{"data":{"name":"b1"},"mark":{"type":"line","strokeWidth":1.1},
"encoding":{
"x":{"field":"t","type":"quantitative","scale":{"domain":[2000.58,2021.52],"nice":false,"zero":false},"axis":{"values":[2005,2010,2015,2020],"format":"d","labelPadding":4,"title":"(b)\u00a0\u00a0\u00a01/N portfolio without replacement (B)","titleY":61,"titleBaseline":"alphabetic"}},
"y":{"field":"v","type":"quantitative","scale":{"domain":[-1.2,4.2],"nice":false,"zero":false},"axis":{"values":[-1,0,1,2,3,4],"format":"d","labelAngle":-90,"labelAlign":"center","labelBaseline":"bottom","labelPadding":2,"title":null}},
"color":{"datum":"1/N portfolio","type":"nominal","scale":{"domain":["1/N portfolio","S&P500 − 1/N"],"range":["#104E8B","#CD5C5C"]},"legend":{"title":null,"orient":"none","legendX":10,"legendY":2.5,"symbolSize":441,"symbolStrokeWidth":1.2,"labelOffset":6,"rowPadding":-3}}}},
{"data":{"name":"b2"},"mark":{"type":"line","strokeWidth":1.1},
"encoding":{"x":{"field":"t","type":"quantitative"},"y":{"field":"v","type":"quantitative"},"color":{"datum":"S&P500 − 1/N","type":"nominal"}}},
{"data":{"name":"refs"},"transform":[{"filter":"datum.label == 'e=2.718'"}],"mark":{"type":"rule","color":"#555555","strokeWidth":1.6},
"encoding":{"y":{"field":"y","type":"quantitative"},"strokeDash":{"field":"label","type":"nominal","scale":{"domain":["e=2.718","2.5"],"range":[[4,3],[1,1.5]]},"legend":{"title":null,"orient":"none","legendX":390,"legendY":2.5,"symbolSize":400,"labelOffset":11,"rowPadding":-3,"encode":{"symbols":{"update":{"stroke":{"value":"black"},"strokeWidth":{"value":1},"strokeDash":{"signal":"datum.value == 'e=2.718' ? [2.2,1.8] : [1,1]"}}}}}}}},
{"data":{"name":"refs"},"transform":[{"filter":"datum.label == '2.5'"}],"mark":{"type":"rule","color":"#333333","strokeWidth":1},
"encoding":{"y":{"field":"y","type":"quantitative"},"strokeDash":{"field":"label","type":"nominal"}}},
{"data":{"name":"zero"},"mark":{"type":"rule","color":"black","strokeWidth":1},"encoding":{"y":{"field":"y","type":"quantitative"}}}
]}
],
"resolve":{"scale":{"color":"independent","strokeDash":"independent"},"legend":{"color":"independent","strokeDash":"independent"}}
}
